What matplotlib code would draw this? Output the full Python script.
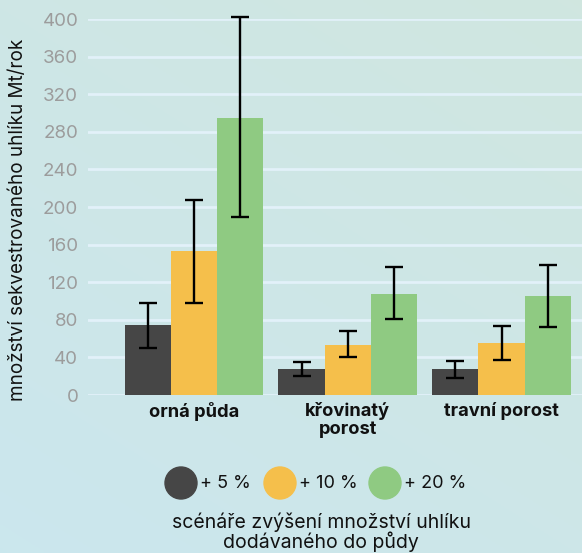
import numpy as np
import matplotlib
matplotlib.use("Agg")
import matplotlib.pyplot as plt
from matplotlib.patches import Circle

plt.rcParams['font.family'] = ['Inter', 'DejaVu Sans']

categories = ["orná půda", "křovinatý\nporost", "travní porost"]
series_names = ["+ 5 %", "+ 10 %", "+ 20 %"]
values = {
    "+ 5 %": [74, 28, 28],
    "+ 10 %": [153, 53, 55],
    "+ 20 %": [295, 107, 105],
}
err_low = {
    "+ 5 %": [50, 20, 18],
    "+ 10 %": [98, 40, 37],
    "+ 20 %": [189, 81, 72],
}
err_high = {
    "+ 5 %": [98, 35, 36],
    "+ 10 %": [207, 68, 73],
    "+ 20 %": [402, 136, 138],
}
yticks = [0, 40, 80, 120, 160, 200, 240, 280, 320, 360, 400]
colors = ["#464646", "#f5bf4b", "#8fca82"]
ylabel = "množství sekvestrovaného uhlíku Mt/rok"
legend_title = "scénáře zvýšení množství uhlíku\ndodávaného do půdy"

W, H = 582, 553
fig = plt.figure(figsize=(W / 100, H / 100), dpi=100)

# background gradient and free-placed decorations (pixel coordinates)
bg = fig.add_axes([0, 0, 1, 1], zorder=0)
bg.set_xlim(0, W)
bg.set_ylim(H, 0)
bg.axis("off")
yy, xx = np.mgrid[0:1:200j, 0:1:200j]
t = np.clip(0.6 * yy + 0.4 * (1 - xx), 0, 1)[..., None]
top = np.array([0.816, 0.902, 0.878])
bot = np.array([0.796, 0.906, 0.933])
grad = top * (1 - t) + bot * t
bg.imshow(grad, extent=[0, W, H, 0], aspect="auto", zorder=0)

ax = fig.add_axes([88 / W, (H - 395) / H, (W - 88) / W, 376 / H], zorder=1)
ax.patch.set_alpha(0)
for s in ax.spines.values():
    s.set_visible(False)

x = np.arange(len(categories))
width = 0.3
for i, name in enumerate(series_names):
    xs = x + (i - 1) * width
    v = np.array(values[name])
    lo = v - np.array(err_low[name])
    hi = np.array(err_high[name]) - v
    ax.bar(xs, v, width=width, color=colors[i], zorder=3)
    ax.errorbar(xs, v, yerr=[lo, hi], fmt="none", ecolor="black",
                elinewidth=1.7, capsize=6.5, capthick=1.7, zorder=4,
                clip_on=False)

ax.set_ylim(0, 400)
ax.set_xlim(-0.688, 2.523)
ax.set_yticks(yticks)
ax.yaxis.grid(True, color="#e2f1f9", linewidth=2.0, zorder=1)
ax.set_axisbelow(True)
ax.tick_params(axis="y", length=0, pad=7, labelsize=13.5, labelcolor="#9c9c9c")
ax.tick_params(axis="x", length=0, pad=5)
ax.set_xticks(x)
ax.set_xticklabels(categories, fontsize=13.2, fontweight="bold", color="#111111",
                   linespacing=1.05, va="top")

fig.text(18 / W, 1 - 220 / H, ylabel, rotation=90, ha="center", va="center",
         fontsize=13.6, color="#111111")

# legend
cx = [181, 280, 385]
for i, name in enumerate(series_names):
    bg.add_patch(Circle((cx[i], 483), 16, color=colors[i], zorder=2))
    bg.text(cx[i] + 19, 483, name, ha="left", va="center", fontsize=13,
            color="#111111", zorder=3)
bg.text(321, 532, legend_title, ha="center", va="center", fontsize=14,
        color="#111111", linespacing=0.95, zorder=3)

fig.savefig("out.png", dpi=100)
